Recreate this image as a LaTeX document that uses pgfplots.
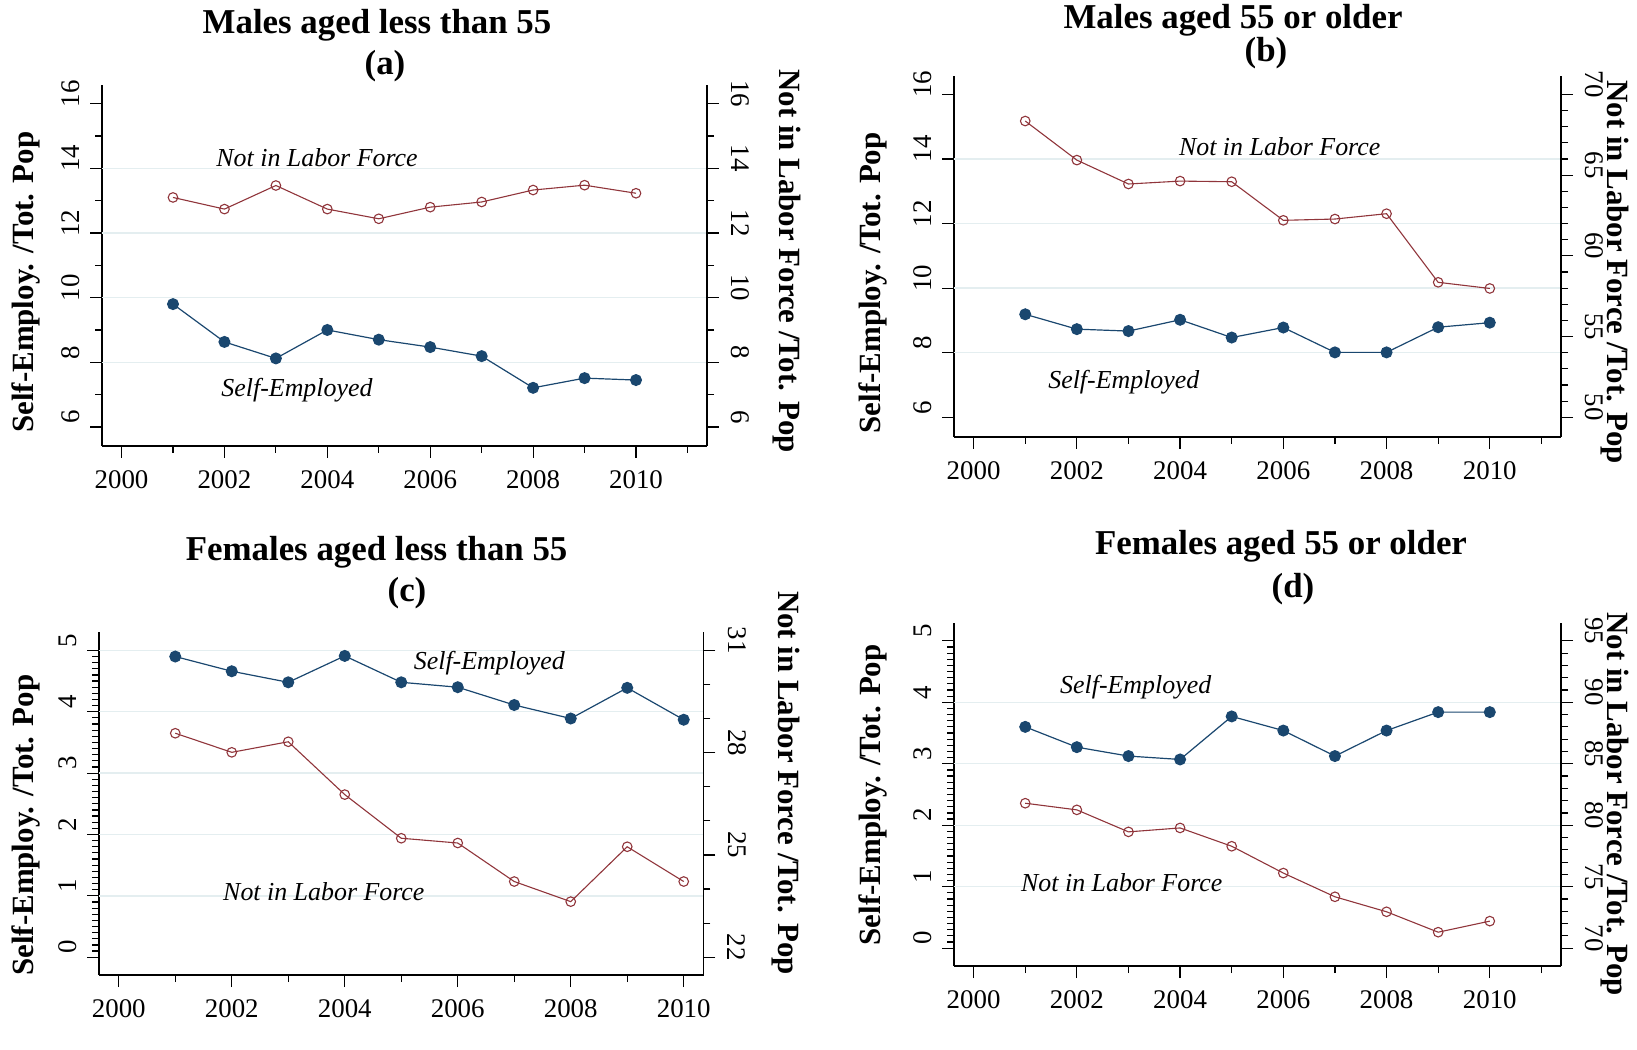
\documentclass[border=0pt]{standalone}
\usepackage{fontspec}
\setmainfont{Liberation Serif}
\usepackage{pgfplots}
\pgfplotsset{compat=1.18}

\definecolor{seblue}{RGB}{26,71,111}
\definecolor{nlfred}{RGB}{144,53,59}
\definecolor{gridc}{RGB}{228,238,240}

\newcommand{\ticksz}{\fontsize{13.5}{15}\selectfont}
\newcommand{\labsz}{\fontsize{15.5}{17}\selectfont\bfseries}
\newcommand{\notesz}{\fontsize{13}{15}\selectfont\itshape}
\newcommand{\titsz}{\fontsize{17.5}{20}\selectfont\bfseries}

\pgfplotsset{
  common/.style={
    scale only axis, anchor=south west, clip=false,
    tick align=outside, major tick length=6bp, minor tick length=3.5bp,
    axis line style={line width=0.6bp, black},
    every tick/.append style={line width=0.6bp, black},
    /pgf/number format/assume math mode=true,
    /pgf/number format/1000 sep={},
    tick label style={font=\ticksz},
    label style={font=\labsz},
  },
  lpanel/.style={common,
    axis x line*=bottom, axis y line*=left,
    xtick={2000,2002,...,2010},
    xticklabel style={anchor=north, inner sep=0pt, yshift=-6bp},
    yticklabel style={rotate=90, anchor=south, inner sep=0pt, xshift=5bp, yshift=5bp},
    extra y tick style={grid=major, major tick length=0pt,
      major grid style={gridc, line width=0.7bp}},
    extra y tick labels={},
  },
  rpanel/.style={common,
    axis x line=none, axis y line*=right,
    yticklabel style={rotate=-90, anchor=south, inner sep=0pt, xshift=-5bp, yshift=6bp},
  },
  se/.style={seblue, line width=0.6bp, mark=*, mark size=2.7bp,
    mark options={fill=seblue, draw=seblue}},
  nlf/.style={nlfred, line width=0.55bp, mark=o, mark size=2.4bp,
    mark options={fill=white, draw=nlfred}},
}

% Panel (a): males under 55
\pgfplotstableread{
year se
2001 9.80
2002 8.63
2003 8.12
2004 9.00
2005 8.70
2006 8.47
2007 8.19
2008 7.21
2009 7.51
2010 7.45
}\seA
\pgfplotstableread{
year nlf
2001 13.10
2002 12.74
2003 13.47
2004 12.74
2005 12.44
2006 12.80
2007 12.96
2008 13.33
2009 13.48
2010 13.23
}\nlfA
% Panel (b): males 55 and older
\pgfplotstableread{
year se
2001 9.19
2002 8.73
2003 8.67
2004 9.02
2005 8.47
2006 8.78
2007 8.01
2008 8.01
2009 8.79
2010 8.93
}\seB
\pgfplotstableread{
year nlf
2001 68.35
2002 65.93
2003 64.45
2004 64.63
2005 64.59
2006 62.20
2007 62.28
2008 62.61
2009 58.36
2010 57.98
}\nlfB
% Panel (c): females under 55
\pgfplotstableread{
year se
2001 4.90
2002 4.66
2003 4.48
2004 4.91
2005 4.48
2006 4.40
2007 4.11
2008 3.89
2009 4.39
2010 3.87
}\seC
\pgfplotstableread{
year nlf
2001 28.57
2002 28.01
2003 28.32
2004 26.77
2005 25.49
2006 25.35
2007 24.22
2008 23.63
2009 25.24
2010 24.22
}\nlfC
% Panel (d): females 55 and older
\pgfplotstableread{
year se
2001 3.60
2002 3.27
2003 3.125
2004 3.07
2005 3.77
2006 3.54
2007 3.125
2008 3.54
2009 3.84
2010 3.84
}\seD
\pgfplotstableread{
year nlf
2001 81.79
2002 81.25
2003 79.46
2004 79.78
2005 78.29
2006 76.11
2007 74.18
2008 72.96
2009 71.30
2010 72.20
}\nlfD

\begin{document}
\begin{tikzpicture}
\useasboundingbox (0,0) rectangle (818.5bp,525bp);

% ---------------- (a)
\begin{axis}[lpanel, at={(51bp,302bp)}, width=302.5bp, height=180.5bp,
  xmin=1999.62, xmax=2011.38, minor xtick={2001,2003,...,2011},
  ymin=5.41, ymax=16.58, ytick={6,8,...,16}, minor ytick={7,9,...,15},
  extra y ticks={8,10,12,14},
  ylabel={Self-Employ. /Tot. Pop},
  ylabel style={at={(axis description cs:-0.1256,0.454)}, anchor=center}]
  \addplot[se] table[x=year, y=se] {\seA};
  \node[font=\notesz] at (axis cs:2003.41,7.14) {Self-Employed};
\end{axis}
\begin{axis}[rpanel, at={(51bp,302bp)}, width=302.5bp, height=180.5bp,
  xmin=1999.62, xmax=2011.38,
  ymin=5.41, ymax=16.58, ytick={6,8,...,16}, minor ytick={7,9,...,15},
  ylabel={Not in Labor Force /Tot. Pop},
  ylabel style={at={(axis description cs:1.1316,0.512)}, anchor=center, rotate=180}]
  \addplot[nlf] table[x=year, y=nlf] {\nlfA};
  \node[font=\notesz] at (axis cs:2003.8,14.32) {Not in Labor Force};
\end{axis}

% ---------------- (b)
\begin{axis}[lpanel, at={(477bp,306.5bp)}, width=303.5bp, height=180.5bp,
  xmin=1999.62, xmax=2011.38, minor xtick={2001,2003,...,2011},
  ymin=5.39, ymax=16.57, ytick={6,8,...,16}, extra y ticks={8,10,12,14},
  ylabel={Self-Employ. /Tot. Pop},
  ylabel style={at={(axis description cs:-0.134,0.427)}, anchor=center}]
  \addplot[se] table[x=year, y=se] {\seB};
  \node[font=\notesz] at (axis cs:2002.91,7.10) {Self-Employed};
\end{axis}
\begin{axis}[rpanel, at={(477bp,306.5bp)}, width=303.5bp, height=180.5bp,
  xmin=1999.62, xmax=2011.38,
  ymin=48.78, ymax=71.14, ytick={50,55,...,70}, minor y tick num=4,
  ylabel={Not in Labor Force /Tot. Pop},
  ylabel style={at={(axis description cs:1.089,0.457)}, anchor=center, rotate=180}]
  \addplot[nlf] table[x=year, y=nlf] {\nlfB};
  \node[font=\notesz] at (axis cs:2005.93,66.76) {Not in Labor Force};
\end{axis}

% ---------------- (c)
\begin{axis}[lpanel, at={(49.5bp,37.5bp)}, width=302.25bp, height=171.5bp,
  xmin=1999.65, xmax=2010.35, minor xtick={2001,2003,...,2009},
  ymin=-0.29, ymax=5.30, ytick={0,1,...,5}, minor y tick num=9,
  extra y ticks={1,2,3,4,5},
  ylabel={Self-Employ. /Tot. Pop},
  ylabel style={at={(axis description cs:-0.121,0.437)}, anchor=center}]
  \addplot[se] table[x=year, y=se] {\seC};
  \node[font=\notesz] at (axis cs:2006.56,4.79) {Self-Employed};
\end{axis}
\begin{axis}[rpanel, at={(49.5bp,37.5bp)}, width=302.25bp, height=171.5bp,
  xmin=1999.65, xmax=2010.35,
  ymin=21.478, ymax=31.54, ytick={22,25,28,31}, minor y tick num=2,
  ylabel={Not in Labor Force /Tot. Pop},
  ylabel style={at={(axis description cs:1.136,0.56)}, anchor=center, rotate=180}]
  \addplot[nlf] table[x=year, y=nlf] {\nlfC};
  \node[font=\notesz] at (axis cs:2003.63,23.91) {Not in Labor Force};
\end{axis}

% ---------------- (d)
\begin{axis}[lpanel, at={(477bp,42bp)}, width=303.5bp, height=171.5bp,
  xmin=1999.62, xmax=2011.38, minor xtick={2001,2003,...,2011},
  ymin=-0.29, ymax=5.29, ytick={0,1,...,5}, minor y tick num=9,
  extra y ticks={1,2,3,4},
  ylabel={Self-Employ. /Tot. Pop},
  ylabel style={at={(axis description cs:-0.134,0.499)}, anchor=center}]
  \addplot[se] table[x=year, y=se] {\seD};
  \node[font=\notesz] at (axis cs:2003.14,4.25) {Self-Employed};
\end{axis}
\begin{axis}[rpanel, at={(477bp,42bp)}, width=303.5bp, height=171.5bp,
  xmin=1999.62, xmax=2011.38,
  ymin=68.55, ymax=96.45, ytick={70,75,...,95}, minor y tick num=4,
  ylabel={Not in Labor Force /Tot. Pop},
  ylabel style={at={(axis description cs:1.089,0.472)}, anchor=center, rotate=180}]
  \addplot[nlf] table[x=year, y=nlf] {\nlfD};
  \node[font=\notesz] at (axis cs:2002.87,75.35) {Not in Labor Force};
\end{axis}

% panel titles
\node[font=\titsz, anchor=base] at (188.5bp,508.3bp) {Males aged less than 55};
\node[font=\titsz, anchor=base] at (192.5bp,487.5bp) {(a)};
\node[font=\titsz, anchor=base] at (616.5bp,510.5bp) {Males aged 55 or older};
\node[font=\titsz, anchor=base] at (633bp,494bp) {(b)};
\node[font=\titsz, anchor=base] at (188.3bp,244.5bp) {Females aged less than 55};
\node[font=\titsz, anchor=base] at (203.5bp,224.2bp) {(c)};
\node[font=\titsz, anchor=base] at (640.5bp,247.5bp) {Females aged 55 or older};
\node[font=\titsz, anchor=base] at (646.5bp,226bp) {(d)};
\end{tikzpicture}
\end{document}
